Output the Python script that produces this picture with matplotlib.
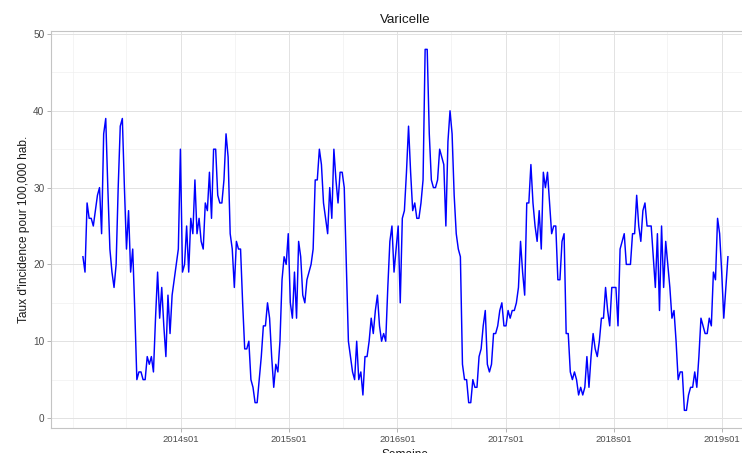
import matplotlib
matplotlib.use("Agg")
import matplotlib.pyplot as plt
import matplotlib.dates as mdates
import numpy as np
import pandas as pd

# weekly incidence (per 100,000), starting early February 2013
start_date = "2013-02-04"
incidence = [
    21, 19, 28, 26, 26, 25, 27, 29, 30, 24,
    37, 39, 30, 22, 19, 17, 20, 30, 38, 39,
    30, 22, 27, 19, 22, 14, 5, 6, 6, 5,
    5, 8, 7, 8, 6, 13, 19, 13, 17, 12,
    8, 16, 11, 16, 18, 20, 22, 35, 19, 20,
    25, 19, 26, 24, 31, 24, 26, 23, 22, 28,
    27, 32, 26, 35, 35, 29, 28, 28, 31, 37,
    34, 24, 22, 17, 23, 22, 22, 15, 9, 9,
    10, 5, 4, 2, 2, 5, 8, 12, 12, 15,
    13, 8, 4, 7, 6, 10, 18, 21, 20, 24,
    15, 13, 19, 13, 23, 21, 16, 15, 18, 19,
    20, 22, 31, 31, 35, 33, 28, 26, 24, 30,
    26, 35, 31, 28, 32, 32, 30, 20, 10, 8,
    6, 5, 10, 5, 6, 3, 8, 8, 10, 13,
    11, 14, 16, 12, 10, 11, 10, 17, 23, 25,
    19, 22, 25, 15, 26, 27, 32, 38, 32, 27,
    28, 26, 26, 28, 31, 48, 48, 37, 31, 30,
    30, 31, 35, 34, 33, 25, 36, 40, 37, 29,
    24, 22, 21, 7, 5, 5, 2, 2, 5, 4,
    4, 8, 9, 12, 14, 7, 6, 7, 11, 11,
    12, 14, 15, 12, 12, 14, 13, 14, 14, 15,
    17, 23, 19, 16, 28, 28, 33, 28, 25, 23,
    27, 22, 32, 30, 32, 28, 24, 25, 25, 18,
    18, 23, 24, 11, 11, 6, 5, 6, 5, 3,
    4, 3, 4, 8, 4, 8, 11, 9, 8, 10,
    13, 13, 17, 14, 12, 17, 17, 17, 12, 22,
    23, 24, 20, 20, 20, 24, 24, 29, 25, 23,
    27, 28, 25, 25, 25, 21, 17, 24, 14, 25,
    17, 23, 20, 17, 13, 14, 10, 5, 6, 6,
    1, 1, 3, 4, 4, 6, 4, 8, 13, 12,
    11, 11, 13, 12, 19, 18, 26, 24, 19, 13,
    17, 21,
]
tick_years = [2014, 2015, 2016, 2017, 2018, 2019]
y_ticks = [0, 10, 20, 30, 40, 50]

dates = pd.date_range(start_date, periods=len(incidence), freq="7D")

FONT = ["Liberation Sans", "DejaVu Sans"]
plt.rcParams["font.family"] = FONT

W, H = 742, 453
fig = plt.figure(figsize=(W / 100, H / 100), dpi=100)

# ggplot-like 5% expansion
x0 = mdates.date2num(dates[0])
x1 = mdates.date2num(dates[-1])
xpad = 0.05 * (x1 - x0)
xlo, xhi = x0 - xpad, x1 + xpad
ymin, ymax = min(incidence), max(incidence)
ypad = 0.05 * (ymax - ymin)
ylo, yhi = ymin - ypad, ymax + ypad

# panel geometry (pixels): 2014s01 at x=181, 2019s01 at x=722
px_per_day = (722 - 181) / (mdates.date2num(pd.Timestamp("2019-01-01"))
                            - mdates.date2num(pd.Timestamp("2014-01-01")))
left_px = 181 - (mdates.date2num(pd.Timestamp("2014-01-01")) - xlo) * px_per_day
width_px = (xhi - xlo) * px_per_day
top_px, bottom_px = 31.3, 428.4
ax = fig.add_axes([left_px / W, (H - bottom_px) / H,
                   width_px / W, (bottom_px - top_px) / H])

ax.plot(dates, incidence, color="#0000ff", lw=1.05, zorder=3)

ax.set_xlim(xlo, xhi)
ax.set_ylim(ylo, yhi)

major = [pd.Timestamp(f"{y}-01-01") for y in tick_years]
minor = [pd.Timestamp(f"{y}-07-01") for y in range(2013, 2019)] + [pd.Timestamp("2013-01-01")]
ax.set_xticks(major)
ax.set_xticklabels([f"{y}s01" for y in tick_years])
ax.set_xticks(minor, minor=True)
ax.set_yticks(y_ticks)
ax.set_yticks([5, 15, 25, 35, 45], minor=True)

ax.grid(which="major", color="#e2e2e2", lw=0.7)
ax.grid(which="minor", color="#eeeeee", lw=0.45)
ax.set_axisbelow(True)

for s in ax.spines.values():
    s.set_color("#c4c4c4")
    s.set_linewidth(0.8)

ax.tick_params(which="major", length=3, width=0.7, color="#b3b3b3",
               labelsize=6.8, labelcolor="#4d4d4d", pad=2)
ax.tick_params(axis="y", which="major", labelsize=7.2, pad=1.5)
ax.tick_params(which="minor", length=0)

ax.set_ylabel("Taux d'incidence pour 100,000 hab.", fontsize=8.6,
              color="#1a1a1a", labelpad=2)
ax.set_xlabel("Semaine", fontsize=8.6, color="#1a1a1a", labelpad=3)
ax.set_title("Varicelle", fontsize=9.6, color="#1a1a1a", pad=6)
ax.title.set_position((0.5, 1.0))

fig.savefig("out.png", dpi=100)
